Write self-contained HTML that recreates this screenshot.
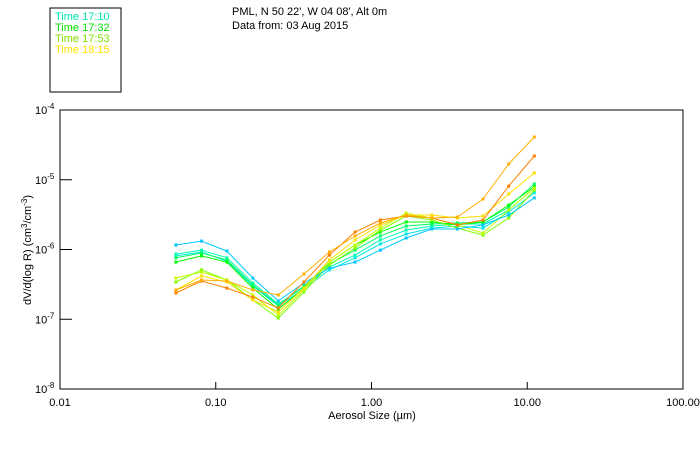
<!DOCTYPE html>
<html><head><meta charset="utf-8"><style>
html,body{margin:0;padding:0;background:#fff;width:700px;height:450px;overflow:hidden}
svg{display:block}
text{font-family:"Liberation Sans",sans-serif}
</style></head><body>
<svg id="chart" width="700" height="450">
  <rect x="50" y="8" width="71" height="84" fill="none" stroke="#000" stroke-width="1"/>
  <text x="55" y="20" font-size="11" fill="#00e8b0">Time 17:10</text>
  <text x="55" y="31" font-size="11" fill="#00e000">Time 17:32</text>
  <text x="55" y="42" font-size="11" fill="#80e000">Time 17:53</text>
  <text x="55" y="53" font-size="11" fill="#ffe000">Time 18:15</text>
  <text x="232" y="15" font-size="11" fill="#000">PML, N 50 22', W 04 08', Alt 0m</text>
  <text x="232" y="29" font-size="11" fill="#000">Data from: 03 Aug 2015</text>
  <rect x="60" y="110" width="623" height="279" fill="none" stroke="#000" stroke-width="1"/>
  <g id="axes"></g>
  <g id="series"></g>
  <text x="372" y="419" font-size="11" text-anchor="middle">Aerosol Size (µm)</text>
  <text transform="translate(31,250) rotate(-90)" font-size="11" text-anchor="middle">dV/d(log R) (cm<tspan dy="-4" font-size="8">3</tspan><tspan dy="4">/cm</tspan><tspan dy="-4" font-size="8">-3</tspan><tspan dy="4">)</tspan></text>
</svg>
<script>
const sizes=[0.0555,0.081,0.118,0.173,0.252,0.368,0.537,0.784,1.14,1.67,2.44,3.56,5.2,7.6,11.1];
const xTickVals=[0.01,0.1,1,10,100];
const xTickLabels=["0.01","0.10","1.00","10.00","100.00"];
const yTickExps=[-4,-5,-6,-7,-8];
const seriesColors=["#00c8ff","#ffb000","#ff8000","#ffe000","#c0ff00","#80ff00","#00ff00","#00ff60","#00ffb0","#00e8e8"];
const s1=[1.16e-6,1.32e-6,9.5e-7,3.9e-7,1.83e-7,3.31e-7,5.4e-7,6.6e-7,9.8e-7,1.46e-6,1.97e-6,1.97e-6,2.25e-6,3.12e-6,5.5e-6];
const s2=[2.63e-7,3.65e-7,3.53e-7,2.63e-7,2.23e-7,4.45e-7,9.2e-7,1.56e-6,2.4e-6,3.12e-6,2.83e-6,2.92e-6,5.3e-6,1.68e-5,4.1e-5];
const s3=[2.38e-7,3.53e-7,2.8e-7,2.08e-7,1.45e-7,3.42e-7,8.3e-7,1.78e-6,2.65e-6,3.02e-6,2.83e-6,2.25e-6,2.65e-6,8.1e-6,2.19e-5];
const s4=[2.63e-7,4.17e-7,3.42e-7,1.89e-7,1.27e-7,2.8e-7,7.1e-7,1.37e-6,2.25e-6,3.12e-6,3.12e-6,2.83e-6,3.02e-6,6.25e-6,1.25e-5];
const s5=[3.9e-7,4.75e-7,3.65e-7,2.23e-7,1.15e-7,2.63e-7,6.6e-7,1.16e-6,2.03e-6,3.33e-6,2.83e-6,2.25e-6,1.72e-6,3.68e-6,7.6e-6];
const s6=[3.42e-7,5.1e-7,3.65e-7,1.89e-7,1.04e-7,2.46e-7,6.0e-7,1.05e-6,1.9e-6,3.02e-6,2.65e-6,2.03e-6,1.61e-6,2.83e-6,7.1e-6];
const s7=[6.6e-7,8.1e-7,6.6e-7,2.8e-7,1.4e-7,2.8e-7,6.6e-7,1.16e-6,1.78e-6,2.48e-6,2.48e-6,2.25e-6,2.48e-6,4.35e-6,7.9e-6];
const s8=[7.6e-7,8.9e-7,7.1e-7,3.1e-7,1.6e-7,3.0e-7,6.2e-7,9.8e-7,1.56e-6,2.17e-6,2.32e-6,2.4e-6,2.48e-6,4.07e-6,8.7e-6];
const s9=[8.6e-7,9.8e-7,7.6e-7,3.31e-7,1.66e-7,2.9e-7,5.6e-7,8.3e-7,1.37e-6,1.9e-6,2.17e-6,2.32e-6,2.32e-6,3.68e-6,7.6e-6];
const s10=[8.1e-7,9.2e-7,6.8e-7,3.0e-7,1.55e-7,2.72e-7,5.1e-7,7.6e-7,1.2e-6,1.67e-6,2.03e-6,2.17e-6,2.03e-6,3.45e-6,6.5e-6];
const allSeries=[s10,s9,s8,s7,s6,s5,s1,s4,s3,s2];
const allColors=["#00e8e8","#00ffb0","#00ff60","#00ff00","#80ff00","#c0ff00","#00c8ff","#ffe000","#ff8000","#ffb000"];

const NS="http://www.w3.org/2000/svg";
const X0=60,X1=683,Y0=110,Y1=389;
function xScale(v){return X0+(Math.log10(v)+2)/4*(X1-X0);}
function yScale(v){return Y0+(-4-Math.log10(v))/4*(Y1-Y0);}
function mk(tag,attrs,parent){const e=document.createElementNS(NS,tag);for(const k in attrs)e.setAttribute(k,attrs[k]);parent.appendChild(e);return e;}

const axes=document.getElementById('axes');
xTickVals.forEach((v,i)=>{
  const x=xScale(v);
  if(i>0&&i<xTickVals.length-1){
    const t=mk('line',{x1:x,x2:x,y1:Y1,y2:Y1-7,stroke:'#000'},axes);
    
    
  }
  const l=mk('text',{x:x,y:406,'font-size':11,'text-anchor':'middle'},axes);
  l.textContent=xTickLabels[i];
  
  
});
yTickExps.forEach((e,i)=>{
  const y=yScale(Math.pow(10,e));
  if(i>0&&i<yTickExps.length-1){
    const t=mk('line',{x1:X0,x2:X0+12,y1:y,y2:y,stroke:'#000'},axes);
    
    
  }
  const l=mk('text',{x:35,y:y+4,'font-size':11},axes);
  l.innerHTML='10<tspan dy="-5" font-size="8">'+e+'</tspan>';
  
  
});

const sg=document.getElementById('series');
allSeries.forEach((vals,si)=>{
  const g=mk('g',{},sg);
  
  
  const pts=vals.map((v,i)=>xScale(sizes[i]).toFixed(1)+','+yScale(v).toFixed(1)).join(' ');
  const pl=mk('polyline',{points:pts,fill:'none',stroke:allColors[si],'stroke-width':1},g);
  
  
  vals.forEach((v,i)=>{
    const r=mk('rect',{x:xScale(sizes[i])-1.5,y:yScale(v)-1.5,width:3,height:3,fill:allColors[si]},g);
    
    
  });
});
</script>
</body></html>
